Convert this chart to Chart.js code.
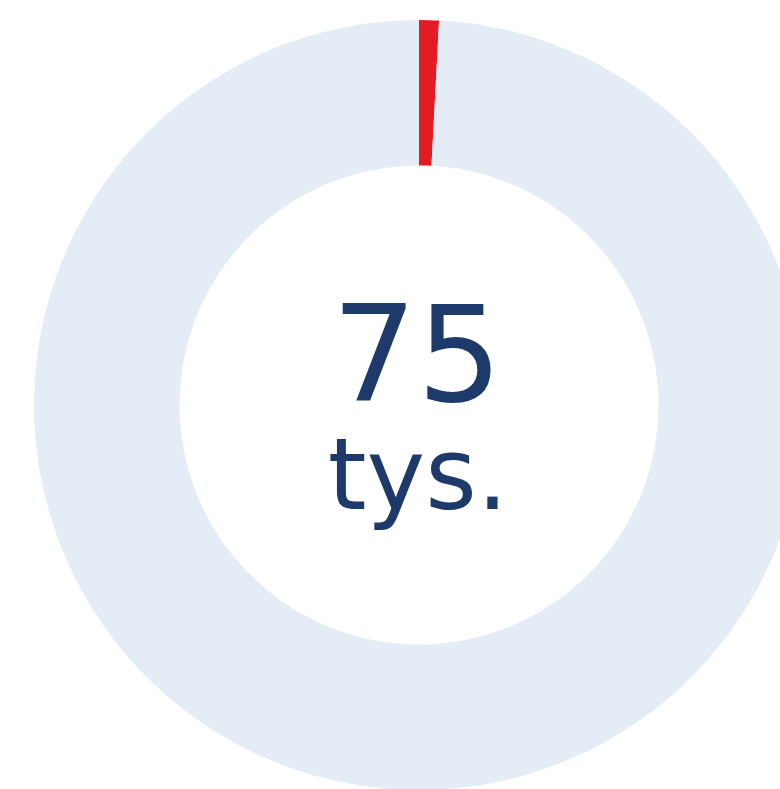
<!DOCTYPE html>
<html>
<head>
<meta charset="utf-8">
<script src="https://cdn.jsdelivr.net/npm/chart.js@4/dist/chart.umd.min.js"></script>
<style>
html,body{margin:0;padding:0;background:#fff;overflow:hidden;width:780px;height:789px;}
#wrap{position:absolute;left:0;top:0;width:838px;height:810px;}
</style>
</head>
<body>
<div id="wrap"><canvas id="c"></canvas></div>
<script>
const categories = ["Udział", "Pozostałe"];
const values = [0.83, 99.17];
const centerValue = "75";
const centerUnit = "tys.";
const colors = ["#e31b23", "#e4edf5"];

const centerText = {
  id: 'centerText',
  afterDraw(chart) {
    const meta = chart.getDatasetMeta(0);
    const arc = meta.data[0];
    const x = arc.x, y = arc.y;
    const ctx = chart.ctx;
    ctx.save();
    ctx.fillStyle = '#1d3a6a';
    ctx.textAlign = 'center';
    ctx.textBaseline = 'alphabetic';
    ctx.font = '134px "DejaVu Sans", Verdana, sans-serif';
    ctx.fillText(centerValue, x - 2, y - 4);
    ctx.font = '99px "DejaVu Sans", Verdana, sans-serif';
    ctx.fillText(centerUnit, x - 1, y + 104);
    ctx.restore();
  }
};

new Chart(document.getElementById('c'), {
  type: 'doughnut',
  data: {
    labels: categories,
    datasets: [{
      data: values,
      backgroundColor: colors,
      borderWidth: 0,
      hoverOffset: 0
    }]
  },
  options: {
    responsive: true,
    maintainAspectRatio: false,
    animation: false,
    cutout: '62.2%',
    layout: { padding: 20 },
    plugins: { legend: { display: false }, tooltip: { enabled: false } }
  },
  plugins: [centerText]
});
</script>
</body>
</html>
